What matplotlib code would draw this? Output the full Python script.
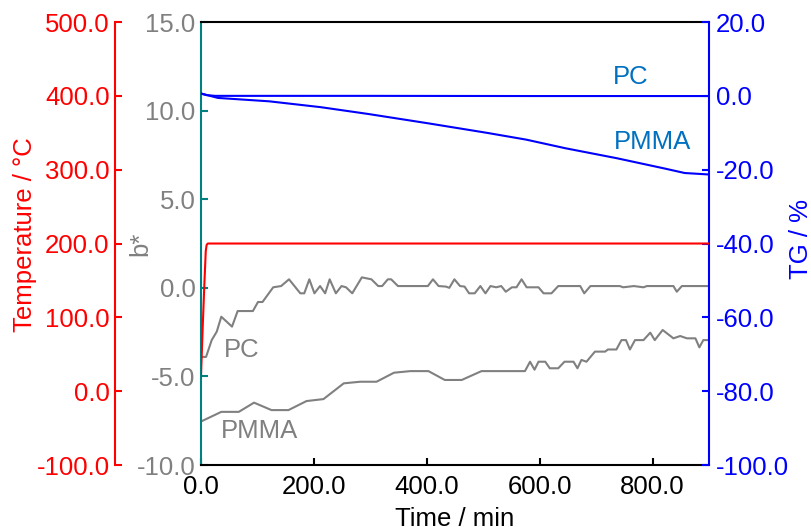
import matplotlib.pyplot as plt
from matplotlib.ticker import FormatStrFormatter

plt.rcParams['font.family'] = ['Liberation Sans', 'DejaVu Sans']
plt.rcParams['axes.unicode_minus'] = False

# b* colour values
pc_b_t = [0, 9, 19, 28, 36, 55, 65, 92, 101, 109, 128, 142, 156, 176, 183, 192, 201, 211,
          220, 228, 239, 249, 257, 268, 285, 302, 314, 321, 331, 337, 349, 402, 411, 421,
          434, 440, 449, 459, 467, 475, 485, 495, 504, 513, 523, 532, 540, 551, 559, 568,
          577, 589, 598, 607, 621, 633, 672, 679, 690, 742, 748, 767, 784, 790, 837, 843,
          852, 897]
pc_b = [-3.9, -3.9, -2.95, -2.47, -1.63, -2.19, -1.31, -1.31, -0.8, -0.8, 0.03, 0.1, 0.48,
        -0.31, -0.31, 0.48, -0.31, 0.1, -0.31, 0.48, -0.31, 0.1, 0.03, -0.31, 0.59, 0.48,
        0.1, 0.1, 0.48, 0.48, 0.1, 0.1, 0.48, 0.1, 0.07, 0.0, 0.48, 0.1, 0.07, -0.31, -0.31,
        0.1, -0.31, 0.1, 0.03, 0.1, -0.22, 0.03, 0.03, 0.48, 0.03, 0.03, 0.03, -0.31, -0.31,
        0.1, 0.1, -0.31, 0.1, 0.1, 0.03, 0.1, 0.03, 0.1, 0.1, -0.22, 0.1, 0.1]

pmma_b_t = [3, 36, 67, 94, 125, 155, 187, 217, 253, 282, 311, 342, 371, 403, 432, 462, 497,
            574, 583, 591, 598, 610, 618, 633, 644, 660, 667, 674, 683, 698, 716, 721, 736,
            745, 753, 760, 769, 784, 796, 804, 818, 837, 849, 861, 876, 883, 890, 897]
pmma_b = [-7.5, -7.0, -7.0, -6.48, -6.9, -6.9, -6.39, -6.28, -5.39, -5.3, -5.3, -4.79, -4.7,
          -4.7, -5.2, -5.2, -4.7, -4.7, -4.17, -4.62, -4.17, -4.17, -4.54, -4.54, -4.17,
          -4.17, -4.54, -4.07, -4.17, -3.6, -3.6, -3.48, -3.48, -2.95, -2.95, -3.48, -2.95,
          -2.95, -2.53, -2.95, -2.38, -2.85, -2.72, -2.85, -2.85, -3.36, -2.95, -2.95]

# TG mass change
pc_tg_t = [0, 10, 25, 300, 600, 900]
pc_tg = [0.6, 0.2, 0.0, 0.0, -0.05, -0.05]
pmma_tg_t = [0, 30, 121, 212, 296, 401, 506, 576, 646, 737, 822, 857, 900]
pmma_tg = [0.65, -0.56, -1.48, -3.06, -4.9, -7.4, -10.0, -11.85, -14.2, -16.9, -19.7, -20.9, -21.3]

# oven temperature
temp_t = [0, 3, 6, 8.5, 10, 12, 900]
temp = [20, 85, 145, 190, 198, 200, 200]

FS = 18.5
gray = '#808080'
teal = '#008080'

fig = plt.figure(figsize=(8.12, 5.27), dpi=100)
ax = fig.add_axes([0.2475, 0.1176, 0.6256, 0.8406])
ax_tg = ax.twinx()
ax_t = ax.twinx()

# b* (host axis)
ax.plot(pc_b_t, pc_b, color=gray, lw=1.5)
ax.plot(pmma_b_t, pmma_b, color=gray, lw=1.5)
ax.set_xlim(0, 900)
ax.set_ylim(-10, 15)
ax.set_xticks([0, 200, 400, 600, 800])
ax.set_yticks([-10, -5, 0, 5, 10, 15])
ax.xaxis.set_major_formatter(FormatStrFormatter('%.1f'))
ax.yaxis.set_major_formatter(FormatStrFormatter('%.1f'))
ax.tick_params(axis='x', direction='in', length=5, width=1.5, labelsize=FS, pad=7, colors='black')
ax.tick_params(axis='y', direction='in', length=5, width=1.5, labelsize=FS, pad=4,
               color=teal, labelcolor=gray)
ax.spines['left'].set_color(teal)
ax.spines['right'].set_visible(False)
for s in ax.spines.values():
    s.set_linewidth(1.5)
ax.set_xlabel('Time / min', fontsize=FS, labelpad=6)
ax.set_ylabel('b*', fontsize=FS, color=gray)
ax.yaxis.set_label_coords(-0.095, 0.5)
ax.text(40, -3.5, 'PC', fontsize=FS, color=gray, va='center')
ax.text(35, -8.1, 'PMMA', fontsize=FS, color=gray, va='center')

# TG (right axis)
ax_tg.plot(pc_tg_t, pc_tg, color='blue', lw=1.5)
ax_tg.plot(pmma_tg_t, pmma_tg, color='blue', lw=1.5)
ax_tg.set_ylim(-100, 20)
ax_tg.set_yticks([-100, -80, -60, -40, -20, 0, 20])
ax_tg.yaxis.set_major_formatter(FormatStrFormatter('%.1f'))
ax_tg.tick_params(axis='y', direction='in', length=5, width=1.5, labelsize=FS, pad=5, colors='blue')
for name in ['left', 'top', 'bottom']:
    ax_tg.spines[name].set_visible(False)
ax_tg.spines['right'].set_color('blue')
ax_tg.spines['right'].set_linewidth(1.5)
ax_tg.set_ylabel('TG / %', fontsize=FS, color='blue')
ax_tg.yaxis.set_label_coords(1.157, 0.51)
ax_tg.text(730, 5.0, 'PC', fontsize=FS, color='#0070C0', va='center')
ax_tg.text(731, -12.6, 'PMMA', fontsize=FS, color='#0070C0', va='center')

# temperature (offset left axis)
ax_t.plot(temp_t, temp, color='red', lw=1.5)
ax_t.set_ylim(-100, 500)
ax_t.yaxis.set_ticks_position('left')
ax_t.yaxis.set_label_position('left')
ax_t.spines['left'].set_position(('axes', -0.169))
ax_t.spines['left'].set_visible(True)
ax_t.spines['left'].set_color('red')
ax_t.spines['left'].set_linewidth(1.5)
for name in ['right', 'top', 'bottom']:
    ax_t.spines[name].set_visible(False)
ax_t.set_yticks([-100, 0, 100, 200, 300, 400, 500])
ax_t.yaxis.set_major_formatter(FormatStrFormatter('%.1f'))
ax_t.tick_params(axis='y', direction='in', length=5, width=1.5, labelsize=FS, pad=4, colors='red')
ax_t.set_ylabel('Temperature / °C', fontsize=FS, color='red')
ax_t.yaxis.set_label_coords(-0.322, 0.52)

fig.savefig('out.png', dpi=100)
